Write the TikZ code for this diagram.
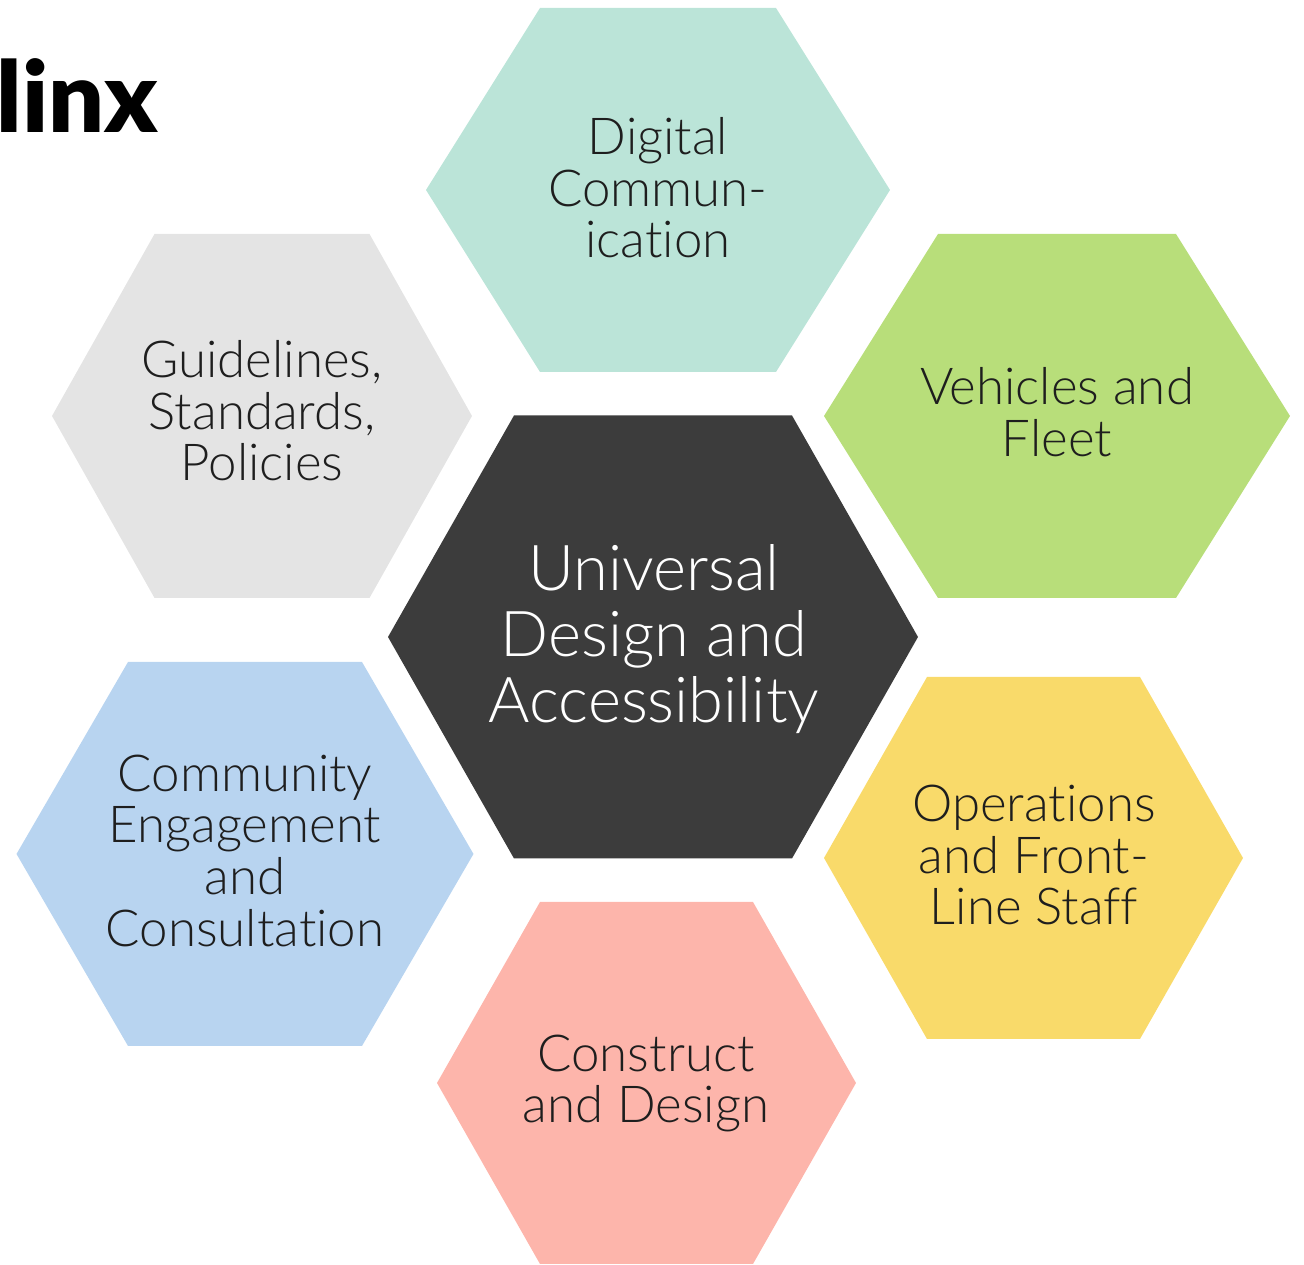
\documentclass[tikz,border=0pt]{standalone}
\usepackage{fontspec}
\setmainfont{Lato Light}[Ligatures=NoCommon, BoldFont=Lato Black]
\definecolor{hexteal}{HTML}{BBE4D8}
\definecolor{hexgreen}{HTML}{B8DE7A}
\definecolor{hexgrey}{HTML}{E4E4E4}
\definecolor{hexdark}{HTML}{3C3C3C}
\definecolor{hexblue}{HTML}{B8D4F0}
\definecolor{hexyellow}{HTML}{F9DA6A}
\definecolor{hexpink}{HTML}{FDB5AB}
\definecolor{textdark}{HTML}{1E1E1E}
% hexagon: centre, half width, half top edge, half height, colour
\newcommand{\hexcell}[5]{\fill[#5, shift={(#1)}] (-#2,0) -- (-#3,#4) -- (#3,#4) -- (#2,0) -- (#3,-#4) -- (-#3,-#4) -- cycle;}
\tikzset{
  cell/.style={align=center, inner sep=0pt, text=textdark, font=\fontsize{14.5}{14.7}\selectfont},
  hub/.style={align=center, inner sep=0pt, text=white, font=\fontsize{18}{18.8}\selectfont}
}
\begin{document}
\begin{tikzpicture}
\useasboundingbox (0,0) rectangle (13.04,12.65);
\hexcell{6.58,10.75}{2.32}{1.18}{1.82}{hexteal}
\hexcell{10.57,8.49}{2.33}{1.19}{1.82}{hexgreen}
\hexcell{2.62,8.49}{2.10}{1.075}{1.82}{hexgrey}
\hexcell{6.53,6.28}{2.65}{1.39}{2.215}{hexdark}
\hexcell{2.45,4.11}{2.285}{1.17}{1.92}{hexblue}
\hexcell{10.335,4.07}{2.095}{1.065}{1.81}{hexyellow}
\hexcell{6.465,1.82}{2.095}{1.065}{1.81}{hexpink}
\node[hub] (hub) at (6.54,6.26) {Universal\\Design and\\Accessibility};
\node[cell] (digital) at (6.58,10.77) {Digital\\Commun-\\ication};
\node[cell] (vehicles) at (10.57,8.53) {Vehicles and\\Fleet};
\node[cell] (guidelines) at (2.62,8.54) {Guidelines,\\Standards,\\Policies};
\node[cell] (community) at (2.45,4.145) {Community\\Engagement\\and\\Consultation};
\node[cell] (operations) at (10.34,4.10) {Operations\\and Front-\\Line Staff};
\node[cell] (construct) at (6.46,1.815) {Construct\\and Design};
\node[anchor=base east, inner sep=0pt, font=\fontsize{28}{30}\selectfont\bfseries] (brand) at (1.59,11.32) {linx};
\end{tikzpicture}
\end{document}
